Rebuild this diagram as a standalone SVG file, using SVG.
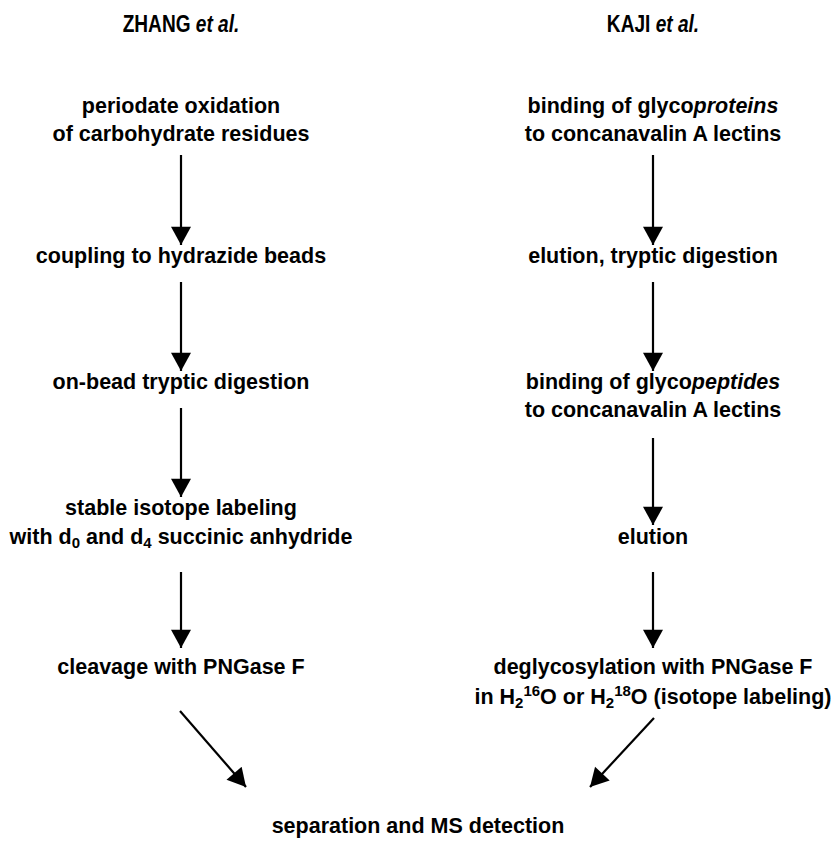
<svg xmlns="http://www.w3.org/2000/svg" width="835" height="841" viewBox="0 0 835 841">
<defs>
<marker id="ah" markerUnits="userSpaceOnUse" markerWidth="22" markerHeight="20" viewBox="0 0 20 22" refX="20" refY="11" orient="auto">
<path d="M0,0 L20,11 L0,22 Z" fill="#000"/>
</marker>
<style>
text{font-family:"Liberation Sans",Arial,sans-serif;font-weight:bold;fill:#000;text-anchor:middle;font-size:21.5px}
.title{font-size:23px}
.sub{font-size:15px}
.conn line{stroke:#000;stroke-width:2.2;marker-end:url(#ah)}
</style>
</defs>
<rect width="835" height="841" fill="#fff"/>
<g id="title-zhang"><text class="title" x="181" y="32" transform="translate(181 0) scale(0.83 1) translate(-181 0)">ZHANG <tspan font-style="italic">et al.</tspan></text></g>
<g id="title-kaji"><text class="title" x="653" y="32" transform="translate(653 0) scale(0.83 1) translate(-653 0)">KAJI <tspan font-style="italic">et al.</tspan></text></g>

<g id="z1"><text x="181" y="113">periodate oxidation</text><text x="181" y="141">of carbohydrate residues</text></g>
<g id="z2"><text x="181" y="263">coupling to hydrazide beads</text></g>
<g id="z3"><text x="181" y="389">on-bead tryptic digestion</text></g>
<g id="z4"><text x="181" y="515">stable isotope labeling</text><text x="181" y="544">with d<tspan class="sub" dy="4">0</tspan><tspan dy="-4"> and d</tspan><tspan class="sub" dy="4">4</tspan><tspan dy="-4"> succinic anhydride</tspan></text></g>
<g id="z5"><text x="181" y="674">cleavage with PNGase F</text></g>

<g id="k1"><text x="653" y="113">binding of glyco<tspan font-style="italic">proteins</tspan></text><text x="653" y="141">to concanavalin A lectins</text></g>
<g id="k2"><text x="653" y="263">elution, tryptic digestion</text></g>
<g id="k3"><text x="653" y="389">binding of glyco<tspan font-style="italic">peptides</tspan></text><text x="653" y="417">to concanavalin A lectins</text></g>
<g id="k4"><text x="653" y="544">elution</text></g>
<g id="k5"><text x="653" y="674">deglycosylation with PNGase F</text><text x="653" y="704">in H<tspan class="sub" dy="4">2</tspan><tspan class="sub" dy="-12">16</tspan><tspan dy="8">O or H</tspan><tspan class="sub" dy="4">2</tspan><tspan class="sub" dy="-12">18</tspan><tspan dy="8">O (isotope labeling)</tspan></text></g>

<g id="ms"><text x="418" y="833">separation and MS detection</text></g>

<g id="connectors" class="conn">
<line x1="181" y1="155" x2="181" y2="245"/>
<line x1="181" y1="282" x2="181" y2="371"/>
<line x1="181" y1="408" x2="181" y2="497"/>
<line x1="181" y1="572" x2="181" y2="648"/>
<line x1="653" y1="155" x2="653" y2="245"/>
<line x1="653" y1="282" x2="653" y2="371"/>
<line x1="653" y1="438" x2="653" y2="525"/>
<line x1="653" y1="572" x2="653" y2="648"/>
<line x1="180" y1="711" x2="246" y2="787"/>
<line x1="654" y1="718" x2="590" y2="787"/>
</g>
</svg>
